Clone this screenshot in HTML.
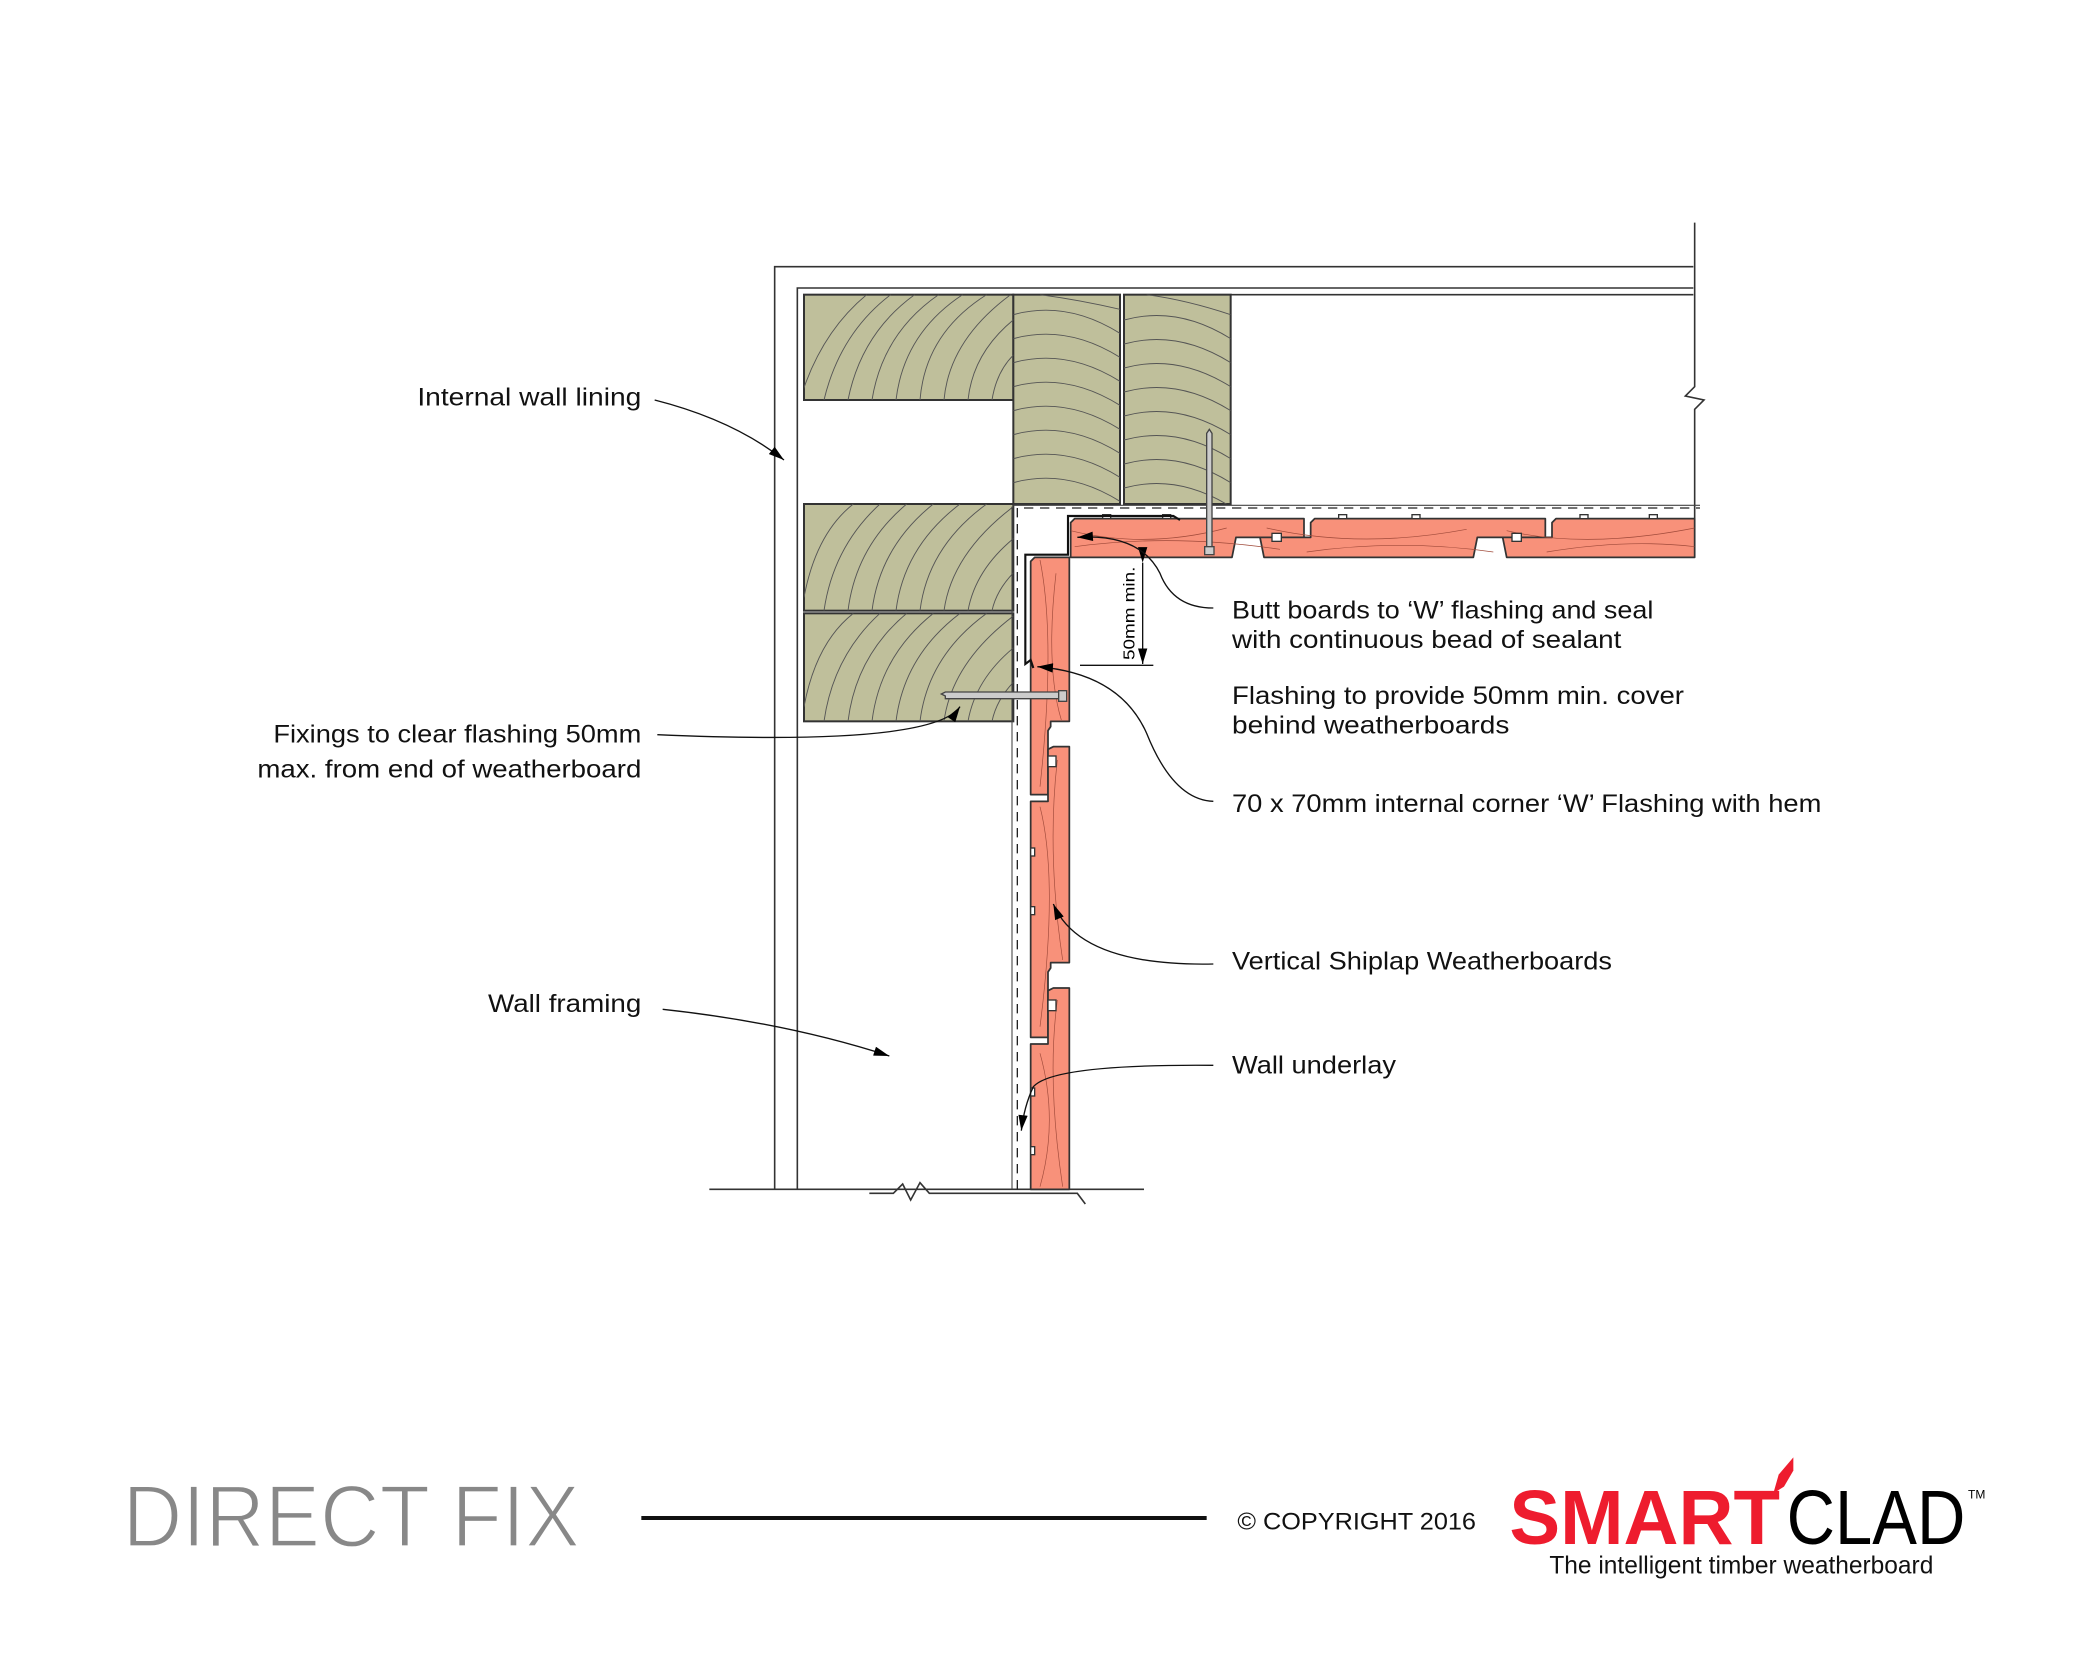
<!DOCTYPE html>
<html><head><meta charset="utf-8"><style>
html,body{margin:0;padding:0;background:#fff;}
svg{display:block;}
text{font-family:"Liberation Sans",sans-serif;}
</style></head><body>
<svg width="2084" height="1667" viewBox="0 0 1563 1250.25" xmlns="http://www.w3.org/2000/svg">
<defs>
<marker id="ar" viewBox="0 0 10 6" refX="10" refY="3" markerWidth="12" markerHeight="7" markerUnits="userSpaceOnUse" orient="auto"><path d="M0,0 L10,3 L0,6 z" fill="#000"/></marker>
<clipPath id="cA"><rect x="603" y="221" width="157" height="79"/></clipPath>
<clipPath id="cD"><rect x="603" y="378" width="157" height="80"/></clipPath>
<clipPath id="cE"><rect x="603" y="460" width="157" height="81"/></clipPath>
<clipPath id="cB"><rect x="760" y="221" width="80" height="157"/></clipPath>
<clipPath id="cC"><rect x="843" y="221" width="80" height="157"/></clipPath>
<clipPath id="cH"><rect x="803" y="389" width="468" height="29"/></clipPath>
<clipPath id="cV"><rect x="773" y="418" width="29" height="474"/></clipPath>
</defs>
<rect width="1563" height="1250.25" fill="#fff"/>

<g stroke="#333" stroke-width="1.2" fill="none">
<path d="M581,892 V200 H1270"/>
<path d="M598,892 V216 H1270"/>
<path d="M923,221 H1270"/>
<path d="M1271,167 V290 L1264,297 L1278,300 L1271,307 V418"/>
<path d="M532,892 H858"/>
<path d="M652,895 H670 L677,888 L683,900 L690,887 L697,895 H808 L814,903"/>
</g>

<g fill="#bfbf9b" stroke="#333" stroke-width="1.5">
<rect x="603" y="221" width="157" height="79"/>
<rect x="603" y="378" width="157" height="80"/>
<rect x="603" y="460" width="157" height="81"/>
<rect x="760" y="221" width="80" height="157"/>
<rect x="843" y="221" width="80" height="157"/>
</g>
<g stroke="#555" stroke-width="0.7" fill="none">
<g clip-path="url(#cA)">
<path d="M600,300 Q615,250 650,221 M618,300 Q630,250 668,221 M636,300 Q646,250 686,221 M654,300 Q662,250 704,221 M672,300 Q678,250 722,221 M690,300 Q694,250 740,221 M708,300 Q712,255 758,221 M726,300 Q730,262 765,236 M744,300 Q748,275 765,262"/>
</g>
<g clip-path="url(#cD)">
<path d="M603,448 Q612,400 640,378 M618,458 Q625,410 660,378 M636,458 Q642,410 680,378 M654,458 Q660,410 700,378 M672,458 Q678,410 720,378 M690,458 Q696,410 740,378 M708,458 Q714,415 760,380 M726,458 Q732,425 765,400 M744,458 Q748,440 765,425"/>
</g>
<g clip-path="url(#cE)">
<path d="M603,530 Q612,482 640,460 M618,541 Q625,492 660,460 M636,541 Q642,492 680,460 M654,541 Q660,492 700,460 M672,541 Q678,492 720,460 M690,541 Q696,492 740,460 M708,541 Q714,497 760,462 M726,541 Q732,507 765,482 M744,541 Q748,522 765,507"/>
</g>
<g clip-path="url(#cB)">
<path d="M760,236 Q800,225 840,250 M760,254 Q800,243 840,268 M760,272 Q800,261 840,286 M760,290 Q800,279 840,304 M760,308 Q800,297 840,322 M760,326 Q800,315 840,340 M760,344 Q800,333 840,358 M760,362 Q800,351 840,376 M780,221 Q810,225 840,232"/>
</g>
<g clip-path="url(#cC)">
<path d="M843,240 Q883,229 923,254 M843,258 Q883,247 923,272 M843,276 Q883,265 923,290 M843,294 Q883,283 923,308 M843,312 Q883,301 923,326 M843,330 Q883,319 923,344 M843,348 Q883,337 923,362 M843,366 Q883,355 923,380 M860,221 Q890,225 923,236"/>
</g>
</g>

<g stroke="#222" stroke-width="1" fill="none" stroke-dasharray="7,5">
<path d="M763,892 V381 H1275"/>
</g>
<path d="M760,379 H1275" stroke="#444" stroke-width="0.8"/>
<path d="M759,892 V380" stroke="#444" stroke-width="0.8"/>

<g fill="#f8917a" stroke="#333" stroke-width="1.3" stroke-linejoin="round">
<path d="M803,392 L806,389 H978 V403 H927 L924,418 H803 Z"/>
<path d="M983,392 L986,389 H1159 V403 H1108 L1105,418 H948 L945,403 H983 Z"/>
<path d="M1164,392 L1167,389 H1271 V418 H1130 L1127,403 H1164 Z"/>
</g>
<g stroke="#a04a3a" stroke-width="0.5" fill="none" clip-path="url(#cH)">
<path d="M803,398 Q860,412 920,396 M806,410 Q880,400 960,412 M950,396 Q1020,412 1100,397 M980,414 Q1050,404 1120,414 M1130,398 Q1190,412 1271,396 M1160,414 Q1220,404 1271,410"/>
</g>
<g fill="#fff" stroke="#333" stroke-width="1">
<rect x="954" y="400" width="7" height="6"/>
<rect x="1134" y="400" width="7" height="6"/>
<rect x="827" y="386" width="6" height="3"/>
<rect x="872" y="386" width="6" height="3"/>
<rect x="1004" y="386" width="6" height="3"/>
<rect x="1059" y="386" width="6" height="3"/>
<rect x="1185" y="386" width="6" height="3"/>
<rect x="1237" y="386" width="6" height="3"/>
</g>

<g fill="#f8917a" stroke="#333" stroke-width="1.3" stroke-linejoin="round">
<path d="M776,418 H802 V541 H788 V545 L786,548 V596 H773 V421 Z"/>
<path d="M773,601 H786 V562 L790,560 H802 V722 H788 V726 L786,729 V778 H773 Z"/>
<path d="M773,783 H786 V743 L790,741 H802 V892 H773 Z"/>
</g>
<g stroke="#a04a3a" stroke-width="0.5" fill="none" clip-path="url(#cV)">
<path d="M780,420 Q792,480 780,590 M792,430 Q784,500 796,540 M780,605 Q794,660 780,770 M793,570 Q785,640 797,720 M780,790 Q794,840 780,890 M793,750 Q785,810 797,890"/>
</g>
<g fill="#fff" stroke="#333" stroke-width="1">
<rect x="786" y="567" width="6" height="8"/>
<rect x="786" y="750" width="6" height="8"/>
<rect x="773" y="636" width="3" height="6"/>
<rect x="773" y="680" width="3" height="6"/>
<rect x="773" y="816" width="3" height="6"/>
<rect x="773" y="860" width="3" height="6"/>
</g>

<path d="M885,390 L880,387 H801 V416 H769 V498 L773,495 L775,501" stroke="#111" stroke-width="1.6" fill="none"/>

<g stroke="#444" stroke-width="1" fill="#ccc">
<path d="M905,325 L907,322 L909,325 V410 H905 Z"/>
<rect x="903.5" y="410" width="7" height="6"/>
<path d="M709,522 L706,520.5 L709,519 H794 V524 H709 Z"/>
<rect x="794" y="518" width="6" height="8"/>
</g>

<g stroke="#111" stroke-width="1" fill="none">
<path d="M857,422 V498" marker-start="url(#ar)" marker-end="url(#ar)"/>
<path d="M810,499 H865"/>
</g>
<text x="0" y="0" font-size="12" transform="translate(851,495) rotate(-90)" textLength="70" lengthAdjust="spacingAndGlyphs">50mm min.</text>

<g stroke="#111" stroke-width="1" fill="none">
<path d="M491,300 Q550,315 588,345" marker-end="url(#ar)"/>
<path d="M493,551 Q700,560 720,530" marker-end="url(#ar)"/>
<path d="M497,757 Q590,767 667,792" marker-end="url(#ar)"/>
<path d="M910,456 Q880,456 870,430 Q855,400 808,403" marker-end="url(#ar)"/>
<path d="M910,601 Q880,600 860,550 Q840,505 778,500" marker-end="url(#ar)"/>
<path d="M910,723 Q810,725 790,678" marker-end="url(#ar)"/>
<path d="M910,799 Q790,798 775,815 Q768,830 766,848" marker-end="url(#ar)"/>
</g>

<g font-size="18.5" fill="#111">
<text x="313" y="304" textLength="168" lengthAdjust="spacingAndGlyphs">Internal wall lining</text>
<text x="205" y="557" textLength="276" lengthAdjust="spacingAndGlyphs">Fixings to clear flashing 50mm</text>
<text x="193" y="583" textLength="288" lengthAdjust="spacingAndGlyphs">max. from end of weatherboard</text>
<text x="366" y="759" textLength="115" lengthAdjust="spacingAndGlyphs">Wall framing</text>
<text x="924" y="464" textLength="316" lengthAdjust="spacingAndGlyphs">Butt boards to ‘W’ flashing and seal</text>
<text x="924" y="486" textLength="292" lengthAdjust="spacingAndGlyphs">with continuous bead of sealant</text>
<text x="924" y="528" textLength="339" lengthAdjust="spacingAndGlyphs">Flashing to provide 50mm min. cover</text>
<text x="924" y="550" textLength="208" lengthAdjust="spacingAndGlyphs">behind weatherboards</text>
<text x="924" y="609" textLength="442" lengthAdjust="spacingAndGlyphs">70 x 70mm internal corner ‘W’ Flashing with hem</text>
<text x="924" y="727" textLength="285" lengthAdjust="spacingAndGlyphs">Vertical Shiplap Weatherboards</text>
<text x="924" y="805" textLength="123" lengthAdjust="spacingAndGlyphs">Wall underlay</text>
</g>

<text x="92" y="1160" font-size="66" fill="#888" stroke="#fff" stroke-width="1.6" textLength="343" lengthAdjust="spacingAndGlyphs">DIRECT FIX</text>
<rect x="481" y="1137" width="424" height="3" fill="#111"/>
<text x="928" y="1147" font-size="18" fill="#111" textLength="179" lengthAdjust="spacingAndGlyphs">© COPYRIGHT 2016</text>
<text x="1132" y="1158" font-size="58" font-weight="bold" fill="#ee1c2e" textLength="203" lengthAdjust="spacingAndGlyphs">SMART</text>
<path d="M1330,1120 L1334,1106 L1345,1093 L1345,1103 L1338,1115 Z" fill="#ee1c2e"/>
<text x="1340" y="1158" font-size="58" fill="#000" textLength="134" lengthAdjust="spacingAndGlyphs">CLAD</text>
<text x="1476" y="1124" font-size="9" fill="#000">TM</text>
<text x="1162" y="1180" font-size="19" fill="#111" textLength="288" lengthAdjust="spacingAndGlyphs">The intelligent timber weatherboard</text>
</svg>
</body></html>
